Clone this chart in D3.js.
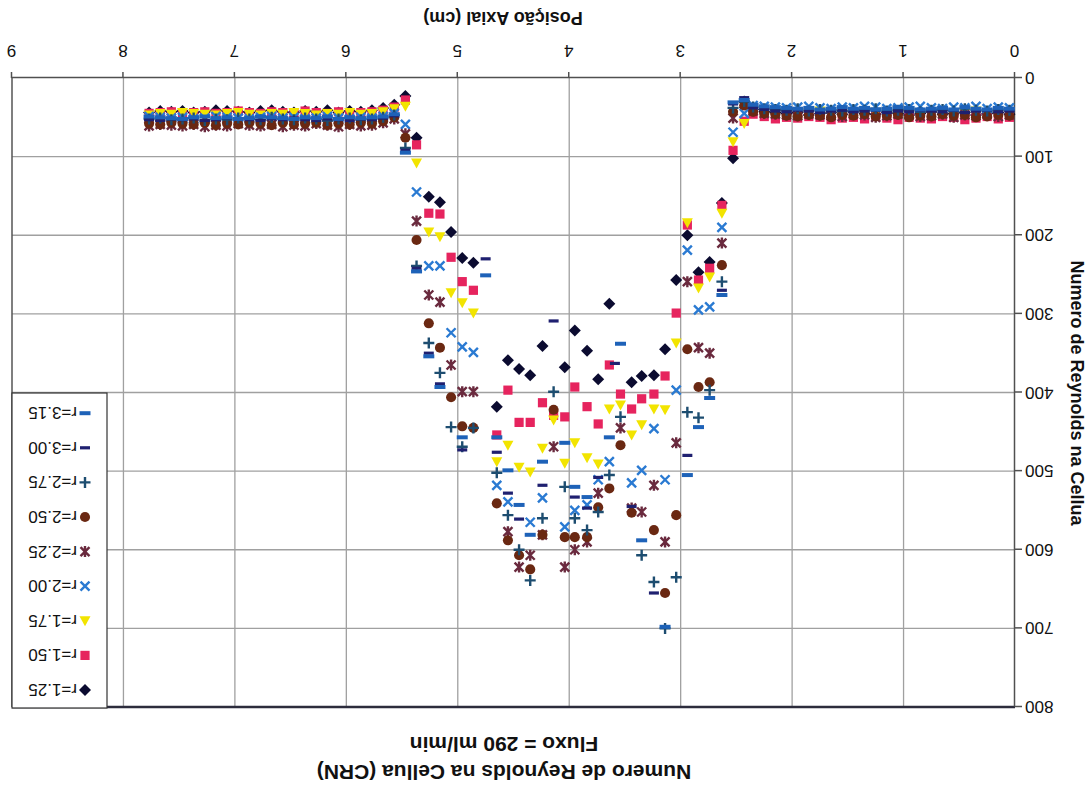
<!DOCTYPE html>
<html>
<head>
<meta charset="utf-8">
<title>Numero de Reynolds na Cellua (CRN)</title>
<script src="https://cdn.jsdelivr.net/npm/d3@7"></script>
<style>
body { margin: 0; background: #fff; }
text { font-family: "Liberation Sans", Arial, sans-serif; fill: #111; }
.grid line { stroke: #a0a0a0; stroke-width: 1.3px; }
.axis path, .axis line { stroke: #505050; stroke-width: 1.5px; }
.axis text { font-size: 17px; fill: #111; }
.ttl { font-weight: bold; }
</style>
</head>
<body>
<script>

// posições axiais (cm) das regiões planas
var xRight = [0.05,0.15,0.25,0.35,0.45,0.55,0.65,0.75,0.85,0.95,1.05,1.15,1.25,1.35,1.45,1.55,1.65,1.75,1.85,1.95,2.05,2.15,2.25,2.35];
var xLeft = [5.57,5.67,5.77,5.87,5.97,6.07,6.17,6.27,6.37,6.47,6.57,6.67,6.77,6.87,6.97,7.07,7.17,7.27,7.37,7.47,7.57,7.67,7.77];

var seriesNames = ["r=1.25","r=1.50","r=1.75","r=2.00","r=2.25","r=2.50","r=2.75","r=3.00","r=3.15"];
var seriesColors = ["#0b0b30","#e6245e","#f2e400","#2a7ad2","#6a2a3e","#6a2812","#1d4d70","#1f2070","#1e62b8"];
var seriesShapes = ["diamond","square","triangle","x","star","circle","plus","dash","dash2"];

// valores nas regiões planas
var flatR_125 = [46,44,45,47,44,45,46,43,45,47,45,44,46,45,43,46,44,45,47,44,45,44,43,40];
var flatR_150 = [50,52,49,51,53,50,49,52,51,50,53,51,49,52,50,51,53,50,49,51,50,52,49,46];
var flatR_175 = [44,43,45,42,44,46,43,44,45,43,42,44,45,43,44,46,43,42,44,45,43,44,42,40];
var flatR_200 = [38,37,39,36,38,37,39,38,36,37,38,39,37,36,38,37,39,38,36,37,38,37,36,35];
var flatR_225 = [47,49,46,48,47,50,46,48,49,47,46,48,50,47,46,49,48,47,46,48,47,46,45,42];
var flatR_250 = [48,47,49,50,47,48,46,49,48,50,47,48,49,46,48,47,50,48,47,49,48,46,45,43];
var flatR_275 = [41,40,42,41,39,42,40,41,43,40,41,42,39,41,40,42,41,40,42,39,41,40,39,37];
var flatR_300 = [42,43,41,42,44,41,43,42,41,43,42,44,41,42,43,41,42,44,42,41,43,42,40,38];
var flatR_315 = [39,38,40,39,37,40,38,39,40,38,37,39,40,38,39,37,39,40,38,39,38,37,36,34];

var flatL_125 = [34,38,41,43,42,44,41,43,42,44,43,41,42,44,43,42,41,43,44,42,43,42,44];
var flatL_150 = [37,41,43,44,45,43,45,44,42,45,44,43,45,44,42,44,45,43,44,45,43,44,45];
var flatL_175 = [39,43,45,46,44,46,45,47,45,44,46,45,47,46,44,45,47,46,45,44,46,45,47];
var flatL_200 = [45,49,51,50,52,51,49,51,52,50,51,49,50,52,51,50,49,51,52,50,51,50,49];
var flatL_225 = [52,57,60,61,59,62,60,58,61,60,62,59,61,60,58,61,60,62,59,61,60,59,61];
var flatL_250 = [50,55,58,57,59,58,60,57,58,59,57,60,58,57,59,58,60,57,59,58,57,59,58];
var flatL_275 = [47,50,52,53,51,52,54,52,51,53,52,50,53,52,51,53,52,54,51,52,53,51,52];
var flatL_300 = [48,51,53,52,54,53,52,54,53,51,53,52,54,53,52,51,53,54,52,53,52,54,53];
var flatL_315 = [46,49,50,51,50,52,49,51,50,52,51,50,49,51,52,50,51,49,50,52,51,50,49];

// região central (x, Reynolds)
var dip_125 = [[5.47,23],[5.37,76],[5.26,151],[5.16,158],[5.06,196],[4.96,229],[4.86,235],[4.65,418],[4.55,359],[4.45,370],[4.35,378],[4.24,341],[4.04,368],[3.95,321],[3.84,347],[3.74,383],[3.64,287],[3.44,387],[3.35,379],[3.24,378],[3.14,345],[3.04,257],[2.94,200],[2.84,247],[2.74,234],[2.63,159],[2.53,102],[2.43,30]];
var dip_150 = [[5.47,28],[5.37,85],[5.26,172],[5.16,173],[5.06,228],[4.96,259],[4.86,270],[4.65,454],[4.55,397],[4.45,438],[4.35,438],[4.24,413],[4.14,429],[4.04,431],[3.95,393],[3.84,418],[3.74,440],[3.64,365],[3.54,402],[3.44,421],[3.35,408],[3.24,402],[3.14,379],[3.04,299],[2.94,187],[2.84,257],[2.74,242],[2.63,162],[2.53,92],[2.43,55]];
var dip_175 = [[5.47,36],[5.37,108],[5.26,196],[5.16,202],[5.06,273],[4.96,286],[4.86,299],[4.65,488],[4.55,467],[4.45,495],[4.35,501],[4.24,471],[4.14,435],[4.04,490],[3.95,464],[3.84,483],[3.74,491],[3.64,421],[3.54,416],[3.44,454],[3.35,441],[3.24,421],[3.14,422],[3.04,337],[2.94,184],[2.84,267],[2.74,253],[2.63,172],[2.53,81],[2.43,58]];
var dip_200 = [[5.47,59],[5.37,145],[5.26,239],[5.16,239],[5.06,324],[4.96,342],[4.86,349],[4.65,518],[4.55,539],[4.35,565],[4.24,534],[4.04,571],[3.95,550],[3.84,543],[3.74,511],[3.64,488],[3.44,515],[3.35,499],[3.24,446],[3.14,511],[3.04,397],[2.94,219],[2.84,295],[2.74,291],[2.63,190],[2.53,69],[2.43,45]];
var dip_225 = [[5.47,71],[5.37,182],[5.26,276],[5.16,285],[5.06,365],[4.96,399],[4.86,399],[4.55,577],[4.45,622],[4.35,607],[4.24,581],[4.14,469],[4.04,622],[3.95,600],[3.84,590],[3.74,528],[3.54,445],[3.44,547],[3.35,552],[3.24,518],[3.14,590],[3.04,464],[2.94,259],[2.84,343],[2.74,350],[2.63,210],[2.53,51],[2.43,33]];
var dip_250 = [[5.47,76],[5.37,206],[5.26,312],[5.16,343],[5.06,406],[4.96,443],[4.86,445],[4.65,541],[4.55,588],[4.45,607],[4.35,625],[4.24,581],[4.14,422],[4.04,584],[3.95,584],[3.84,584],[3.74,546],[3.64,522],[3.54,467],[3.44,553],[3.24,575],[3.14,655],[3.04,556],[2.94,345],[2.84,393],[2.74,387],[2.63,238],[2.53,43],[2.43,35]];
var dip_275 = [[5.47,89],[5.37,239],[5.26,337],[5.16,375],[5.06,444],[4.96,469],[4.86,445],[4.65,502],[4.55,556],[4.45,600],[4.35,639],[4.24,560],[4.14,399],[4.04,520],[3.95,560],[3.84,575],[3.74,552],[3.64,505],[3.54,431],[3.35,607],[3.24,641],[3.14,700],[3.04,635],[2.94,425],[2.84,432],[2.74,397],[2.63,259],[2.53,38],[2.43,30]];
var dip_300 = [[5.47,92],[5.37,242],[5.26,350],[5.16,389],[4.96,473],[4.75,230],[4.65,476],[4.55,528],[4.45,561],[4.24,518],[4.14,309],[3.95,533],[3.84,547],[3.74,508],[3.59,363],[3.44,545],[3.24,655],[2.94,480],[2.63,270],[2.53,33],[2.43,25]];
var dip_315 = [[5.47,95],[5.37,246],[5.26,354],[5.16,393],[4.96,457],[4.75,251],[4.65,457],[4.55,499],[4.45,543],[4.35,581],[4.24,488],[4.04,464],[3.95,520],[3.84,533],[3.64,457],[3.54,338],[3.35,588],[3.14,698],[2.94,505],[2.84,444],[2.74,407],[2.63,276],[2.53,31],[2.43,28]];

var flatR = [flatR_125,flatR_150,flatR_175,flatR_200,flatR_225,flatR_250,flatR_275,flatR_300,flatR_315];
var flatL = [flatL_125,flatL_150,flatL_175,flatL_200,flatL_225,flatL_250,flatL_275,flatL_300,flatL_315];
var dips = [dip_125,dip_150,dip_175,dip_200,dip_225,dip_250,dip_275,dip_300,dip_315];

var width = 1092, height = 787;

var svg = d3.select("body").append("svg")
    .attr("width", width)
    .attr("height", height);

svg.append("rect").attr("width", width).attr("height", height).attr("fill", "#fff");

// the scanned page is upside down
var g = svg.append("g")
    .attr("transform", "rotate(180 " + (width / 2) + " " + (height / 2) + ")");

var x = d3.scaleLinear().domain([0, 9]).range([77, 1080]);
var y = d3.scaleLinear().domain([0, 800]).range([709, 80]);

// grid
var grid = g.append("g").attr("class", "grid");
grid.selectAll("line.v")
    .data(d3.range(1, 9))
    .enter().append("line")
    .attr("x1", function(d) { return x(d); })
    .attr("x2", function(d) { return x(d); })
    .attr("y1", y(0)).attr("y2", y(800));
grid.selectAll("line.h")
    .data(d3.range(100, 800, 100))
    .enter().append("line")
    .attr("x1", x(0)).attr("x2", x(9))
    .attr("y1", function(d) { return y(d); })
    .attr("y2", function(d) { return y(d); });

// plot frame
g.append("line").attr("x1", x(0)).attr("x2", x(9)).attr("y1", y(800)).attr("y2", y(800))
    .attr("stroke", "#2c2c3c").attr("stroke-width", 2.5);
g.append("line").attr("x1", x(9)).attr("x2", x(9)).attr("y1", y(0)).attr("y2", y(800))
    .attr("stroke", "#555").attr("stroke-width", 1.5);

// axes
g.append("g").attr("class", "axis")
    .attr("transform", "translate(0," + y(0) + ")")
    .call(d3.axisBottom(x).ticks(9).tickSize(6).tickSizeOuter(0).tickPadding(15));
g.append("g").attr("class", "axis")
    .attr("transform", "translate(" + x(0) + ",0)")
    .call(d3.axisLeft(y).tickValues(d3.range(0, 900, 100)).tickSize(7).tickSizeOuter(0).tickPadding(3));

// marker shapes
function shapePath(s) {
  if (s == "diamond") return "M0,-6L6,0L0,6L-6,0Z";
  if (s == "square") return "M-4.6,-4.6H4.6V4.6H-4.6Z";
  if (s == "triangle") return "M0,-5.5L5.5,4.5L-5.5,4.5Z";
  if (s == "x") return "M-4.5,-4.5L4.5,4.5M-4.5,4.5L4.5,-4.5";
  if (s == "star") return "M-4.5,-4.5L4.5,4.5M-4.5,4.5L4.5,-4.5M0,-5.5L0,5.5";
  if (s == "plus") return "M-5.5,0H5.5M0,-5.5V5.5";
  if (s == "dash") return "M-5,-1.6H5V1.6H-5Z";
  if (s == "dash2") return "M-5.5,-2H5.5V2H-5.5Z";
  return d3.symbol().type(d3.symbolCircle).size(80)();
}
function isStroke(s) { return s == "x" || s == "star" || s == "plus"; }

function drawMarker(sel, i) {
  var s = seriesShapes[i];
  sel.attr("d", shapePath(s))
     .attr("fill", isStroke(s) ? "none" : seriesColors[i])
     .attr("stroke", isStroke(s) ? seriesColors[i] : "none")
     .attr("stroke-width", isStroke(s) ? 2.4 : 0);
}

var plot = g.append("g");
seriesNames.forEach(function(name, i) {
  var pts = dips[i]
    .concat(xRight.map(function(v, j) { return [v, flatR[i][j]]; }))
    .concat(xLeft.map(function(v, j) { return [v, flatL[i][j]]; }));
  plot.append("g")
    .selectAll("path")
    .data(pts)
    .enter().append("path")
    .attr("transform", function(d) { return "translate(" + x(d[0]) + "," + y(d[1]) + ")"; })
    .call(drawMarker, i);
});

// legend
var lg = g.append("g");
lg.append("rect")
    .attr("x", 985).attr("y", 79).attr("width", 95).attr("height", 315)
    .attr("fill", "#fff").attr("stroke", "#333").attr("stroke-width", 1.2);
seriesNames.forEach(function(name, i) {
  var yy = 97 + i * 34.6;
  lg.append("path").attr("transform", "translate(1007," + yy + ")").call(drawMarker, i);
  lg.append("text").attr("x", 1015).attr("y", yy).attr("dy", "0.35em")
    .style("font-size", "17px").text(name);
});

// titles
g.append("text").attr("class", "ttl").attr("x", 588).attr("y", 22)
    .attr("text-anchor", "middle").style("font-size", "21px")
    .text("Numero de Reynolds na Cellua (CRN)");
g.append("text").attr("class", "ttl").attr("x", 588).attr("y", 50)
    .attr("text-anchor", "middle").style("font-size", "21px")
    .text("Fluxo = 290 ml/min");
g.append("text").attr("class", "ttl").attr("x", 589).attr("y", 775)
    .attr("text-anchor", "middle").style("font-size", "18px")
    .text("Posição Axial (cm)");
g.append("text").attr("class", "ttl")
    .attr("transform", "translate(15,394) rotate(-90)")
    .attr("text-anchor", "middle").attr("dy", "0.35em").style("font-size", "18px")
    .text("Numero de Reynolds na Cellua");

</script>
</body>
</html>
